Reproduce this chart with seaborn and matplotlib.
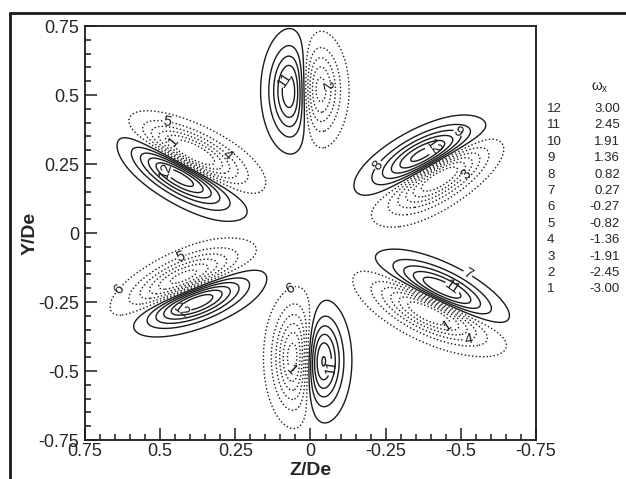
import numpy as np
import matplotlib
matplotlib.use("Agg")
import matplotlib.pyplot as plt
from matplotlib.lines import Line2D
from matplotlib.ticker import MultipleLocator
import seaborn as sns

# contour levels of the streamwise vorticity (legend on the right)
level_ids = [12, 11, 10, 9, 8, 7, 6, 5, 4, 3, 2, 1]
level_vals = [3.00, 2.45, 1.91, 1.36, 0.82, 0.27, -0.27, -0.82, -1.36, -1.91, -2.45, -3.00]

# vortex cores: centre (Z/De, Y/De), axis angle in deg,
# spread along / across the core, peak value
core_z = [0.046, -0.004, -0.4208, -0.4442, -0.4309, -0.4091,
          -0.0157, 0.0337, 0.4157, 0.4393, 0.4583, 0.4318]
core_y = [0.515, 0.518, 0.2846, 0.2404, -0.224, -0.269,
          -0.4613, -0.4537, -0.242, -0.198, 0.2438, 0.2862]
core_ang = [90, 90, 152.7, 140.6, 28.7, 27.4,
            90, 90, 160.0, 150.6, 36.1, 24.6]
core_long = [0.103, 0.100, 0.124, 0.125, 0.118, 0.123,
             0.105, 0.112, 0.118, 0.124, 0.125, 0.124]
core_short = [0.050, 0.052, 0.048, 0.052, 0.047, 0.052,
              0.050, 0.050, 0.047, 0.050, 0.046, 0.050]
core_amp = [5.2, -4.9, 5.9, -5.8, 5.8, -5.9,
            5.6, -5.8, 5.9, -5.45, 5.9, -5.9]

# contour labels (level number, position)
label_ids = [11, 2, 9, 12, 8, 3, 7, 11, 1, 4, 6, 1, 11, 5, 6, 12, 5, 1, 4, 12]
label_z = [0.111, -0.075, -0.530, -0.464, -0.225, -0.537, -0.547, -0.481, -0.454, -0.540,
           0.068, 0.091, -0.062, 0.424, 0.667, 0.434, 0.474, 0.461, 0.294, 0.534]
label_y = [0.569, 0.540, 0.435, 0.355, 0.246, 0.192, -0.105, -0.181, -0.341, -0.453,
           -0.199, -0.562, -0.485, -0.105, -0.178, -0.308, 0.409, 0.344, 0.265, 0.228]

tick_vals = [0.75, 0.5, 0.25, 0, -0.25, -0.5, -0.75]
tick_text = ["0.75", "0.5", "0.25", "0", "-0.25", "-0.5", "-0.75"]

sns.set_theme(style="white")
plt.rcParams['font.family'] = ['Liberation Sans', 'DejaVu Sans']
plt.rcParams['mathtext.fontset'] = 'custom'
plt.rcParams['mathtext.rm'] = 'Liberation Sans'
plt.rcParams['mathtext.it'] = 'Liberation Sans'

# vorticity field built from the cores
grid = np.linspace(-0.75, 0.75, 451)
zz, yy = np.meshgrid(grid, grid)
wx = np.zeros_like(zz)
for z0, y0, ang, sl, ss, amp in zip(core_z, core_y, core_ang, core_long, core_short, core_amp):
    t = np.deg2rad(ang)
    u = (zz - z0) * np.cos(t) + (yy - y0) * np.sin(t)
    v = -(zz - z0) * np.sin(t) + (yy - y0) * np.cos(t)
    wx += amp * np.exp(-0.5 * ((u / sl) ** 2 + (v / ss) ** 2))

levels = sorted(level_vals)
styles = ['dotted' if lv < 0 else 'solid' for lv in levels]

fig = plt.figure(figsize=(6.26, 4.79), dpi=100)
ax = fig.add_axes([0.1358, 0.0814, 0.7204, 0.8643])
cs = ax.contour(zz, yy, wx, levels=levels, colors='k', linewidths=1.0, linestyles=styles)
ax.set_xlim(0.75, -0.75)
ax.set_ylim(-0.75, 0.75)

# snap every label onto the nearest point of its own level, then label
id_of_level = {lv: str(level_ids[level_vals.index(round(lv, 2))]) for lv in cs.levels}
spots = []
for lid, lz, ly in zip(label_ids, label_z, label_y):
    k = int(np.argmin(np.abs(cs.levels - level_vals[level_ids.index(lid)])))
    verts = cs.get_paths()[k].vertices
    if len(verts) == 0:
        continue
    pix = ax.transData.transform(verts)
    p0 = ax.transData.transform((lz, ly))
    j = int(np.argmin(((pix - p0) ** 2).sum(axis=1)))
    spots.append(tuple(verts[j]))
ax.clabel(cs, manual=spots, inline=True, inline_spacing=1,
          fmt=id_of_level, fontsize=10.5, colors='k')

ax.set_xticks(tick_vals)
ax.set_xticklabels(tick_text)
ax.set_yticks(tick_vals)
ax.set_yticklabels(tick_text)
ax.xaxis.set_minor_locator(MultipleLocator(0.05))
ax.yaxis.set_minor_locator(MultipleLocator(0.05))
ax.tick_params(which='major', direction='in', length=8.5, width=1.1, color='k',
               bottom=True, left=True, top=False, right=False, labelsize=13, pad=4)
ax.tick_params(axis='x', which='major', pad=2.5)
ax.tick_params(which='minor', direction='in', length=4.5, width=1.1, color='k',
               bottom=True, left=True, top=False, right=False)
for sp in ax.spines.values():
    sp.set_color('k')
    sp.set_linewidth(1.3)

ax.set_xlabel('Z/De', fontsize=14, fontweight='bold', va='center')
ax.set_ylabel('Y/De', fontsize=14, fontweight='bold', va='center')
ax.xaxis.set_label_coords(0.5, -0.074)
ax.yaxis.set_label_coords(-0.122, 0.5)

# level legend
fig.text(600 / 626, 1 - 88 / 479, r'$\omega_x$', ha='center', va='center', fontsize=10)
for i, (lid, lv) in enumerate(zip(level_ids, level_vals)):
    yp = 1 - (109 + i * 16.4) / 479
    fig.text(547 / 626, yp, str(lid), ha='left', va='center', fontsize=9.5)
    fig.text(620 / 626, yp, f'{lv:.2f}', ha='right', va='center', fontsize=9.5)

# outer frame of the original figure
fig.add_artist(Line2D([10 / 626, 1], [1 - 13 / 479] * 2, transform=fig.transFigure, color='k', lw=2))
fig.add_artist(Line2D([10 / 626] * 2, [0, 1 - 13 / 479], transform=fig.transFigure, color='k', lw=2))

fig.savefig('out.png', dpi=100, facecolor='white')
